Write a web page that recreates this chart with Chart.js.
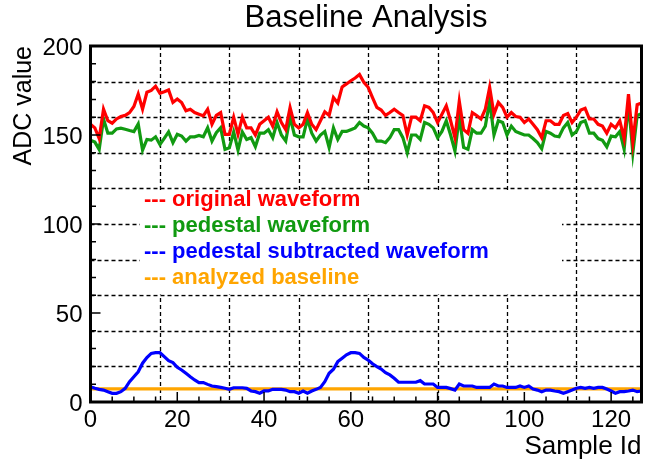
<!DOCTYPE html>
<html>
<head>
<meta charset="utf-8">
<script src="https://cdn.jsdelivr.net/npm/chart.js@4"></script>
<style>
  html, body { margin: 0; padding: 0; background: #fff; }
  canvas { display: block; }
</style>
</head>
<body>
<canvas id="chart" width="646" height="463"></canvas>
<script>
// sample ids 0..127
const sampleIds = Array.from({ length: 128 }, (_, i) => i)

const originalWaveform = [
  156, 154, 148, 164.5, 158, 156.6, 159, 160.4, 161, 162.6,
  166, 173, 164.5, 174, 175, 177.4, 173.4, 174.3, 175.3, 168.3,
  170.2, 168.3, 163.6, 164.5, 162.6, 161.7, 160.8, 164.5, 156, 161,
  162.6, 150.4, 150.4, 160, 150.4, 160, 154, 154, 150, 156,
  158, 160, 155, 163, 157, 153, 165.5, 156, 154, 156,
  162.6, 156, 153, 158, 163, 161, 171, 168, 177, 178.7,
  180.5, 182, 184, 179.6, 176.8, 171, 165.5, 164, 161, 162.6,
  164.5, 162.6, 161, 150, 160, 160, 158, 166.4, 165.5, 162.6,
  157, 161.7, 166.4, 158, 148.5, 169, 153, 151, 162.6, 161,
  159, 164.5, 176.8, 161.7, 168.3, 165.5, 160, 162.6, 160.4, 160,
  157, 159, 156, 153, 148.5, 158, 158, 156, 156, 161,
  162, 157, 160, 164, 165, 159, 159, 156, 155, 151,
  156, 154, 158, 148, 173, 146, 167, 168
]

const pedestalWaveform = [
  147.1, 146, 141.9, 159, 151, 151, 153.4, 153.8, 153.2, 152.5,
  151.9, 156.2, 141.5, 147.5, 147.1, 149, 144.7, 148.1, 151.7, 145.7,
  150.4, 149.4, 146.6, 149, 149, 149.8, 149, 154.1, 146.6, 151.3,
  154.1, 141.9, 142.8, 151.7, 141.5, 151.7, 147.5, 148.5, 143.4, 151,
  151, 153, 148.5, 157, 150, 146.6, 160, 150, 149, 149,
  159, 151, 146.6, 150, 152, 143, 154, 147.5, 152, 152,
  153, 154, 157, 155, 154, 151, 146.6, 146.6, 145.7, 148.5,
  153, 153, 148.5, 140, 150, 150, 147.5, 157, 156, 154,
  148.5, 152, 158, 150, 141, 160, 143, 142, 153, 151,
  151, 155, 169, 150, 158, 157, 150, 155, 152, 151,
  150, 150, 148, 145.7, 142.3, 152, 151, 149.4, 149, 154,
  157, 150, 152, 157, 158, 151, 151, 148, 147, 143.4,
  149.4, 149, 152, 142, 168, 140, 161, 162
]

const subtractedWaveform = [
  8.6, 7.7, 7.1, 6.7, 5.8, 4.9, 4.9, 5.8, 7.7, 11.4,
  14.2, 17, 21.8, 25, 27.3, 27.7, 27.7, 25.5, 23.2, 22.1,
  19.5, 18, 16.1, 14.2, 12.4, 10.9, 10.9, 9.9, 9, 8.6,
  8.2, 7.7, 7.1, 8, 8, 8, 7.7, 6.2, 5.8, 4.9,
  6.2, 6.2, 7.1, 7.1, 7.1, 6.7, 5.8, 5.8, 4.9, 6.2,
  4.9, 6.2, 7.1, 8.2, 11.4, 16.1, 18.4, 22.7, 24.6, 26.5,
  27.7, 27.7, 27.3, 25, 23.6, 21.5, 19.9, 18.5, 16.5, 15.2,
  13.3, 11.1, 11.1, 11.1, 11.1, 11.1, 12, 10.1, 10.1, 10.1,
  8.2, 8.2, 8.2, 7.5, 6.7, 10.1, 9, 9, 9, 8.2,
  8.2, 8.2, 8.2, 10.1, 9, 9, 8.2, 8.2, 8.2, 9,
  8.2, 9, 7.3, 6.7, 5.8, 6.7, 6.7, 6.2, 5.8, 4.9,
  5.8, 6.7, 7.7, 8.2, 7.7, 8.2, 7.7, 8.2, 8.2, 7.3,
  6.2, 4.9, 5.8, 5.8, 6.2, 6.7, 5.8, 6.2
]

const baselineValue = 7.4

const xTickStep = 20
const yTickStep = 50
const xGridStep = 16
const yGridStep = 20

const FONT = '"Liberation Sans", Helvetica, Arial, sans-serif'

// ROOT-like frame: dashed grid, inward ticks, box legend
const rootFrame = {
  id: 'rootFrame',
  beforeDatasetsDraw(chart) {
    const { ctx, chartArea: a, scales: { x, y } } = chart
    ctx.save()
    ctx.strokeStyle = '#000'
    ctx.lineWidth = 1.3
    ctx.setLineDash([4, 3])
    ctx.beginPath()
    for (let v = xGridStep; v < x.max; v += xGridStep) {
      const px = Math.round(x.getPixelForValue(v)) + 0.5
      ctx.moveTo(px, a.top)
      ctx.lineTo(px, a.bottom)
    }
    for (let v = yGridStep; v < y.max; v += yGridStep) {
      const py = Math.round(y.getPixelForValue(v)) + 0.5
      ctx.moveTo(a.left, py)
      ctx.lineTo(a.right, py)
    }
    ctx.stroke()
    ctx.restore()
  },
  afterDatasetsDraw(chart) {
    const { ctx, chartArea: a, scales: { x, y } } = chart

    // legend
    ctx.save()
    ctx.fillStyle = '#fff'
    ctx.fillRect(140, 190, 422, 104.5)
    ctx.font = 'bold 22px ' + FONT
    ctx.textBaseline = 'middle'
    ctx.textAlign = 'left'
    chart.data.datasets.forEach((ds, i) => {
      ctx.fillStyle = ds.borderColor
      ctx.fillText('--- ' + ds.label, 144, 200 + i * 26)
    })
    ctx.restore()

    // ticks
    ctx.save()
    ctx.strokeStyle = '#000'
    ctx.lineWidth = 1.5
    ctx.beginPath()
    for (let v = 0; v <= x.max; v += 5) {
      const px = x.getPixelForValue(v)
      const len = v % xTickStep === 0 ? 10 : 5.5
      ctx.moveTo(px, a.bottom)
      ctx.lineTo(px, a.bottom - len)
    }
    for (let v = 0; v <= y.max; v += 10) {
      const py = y.getPixelForValue(v)
      const len = v % yTickStep === 0 ? 10 : 5.5
      ctx.moveTo(a.left, py)
      ctx.lineTo(a.left + len, py)
    }
    ctx.stroke()

    // frame
    ctx.lineWidth = 3
    ctx.strokeRect(a.left, a.top, a.right - a.left, a.bottom - a.top)
    ctx.restore()
  }
}

const lineStyle = {
  borderWidth: 3.2,
  pointRadius: 0,
  tension: 0,
  fill: false
}

new Chart(document.getElementById('chart'), {
  type: 'line',
  data: {
    labels: sampleIds,
    datasets: [
      { ...lineStyle, label: 'original waveform', data: originalWaveform, borderColor: '#ff0000' },
      { ...lineStyle, label: 'pedestal waveform', data: pedestalWaveform, borderColor: '#119a11' },
      { ...lineStyle, label: 'pedestal subtracted waveform', data: subtractedWaveform, borderColor: '#0000ff' },
      {
        ...lineStyle,
        label: 'analyzed baseline',
        data: [{ x: 0, y: baselineValue }, { x: 127, y: baselineValue }],
        borderColor: '#ffa500'
      }
    ]
  },
  options: {
    responsive: false,
    animation: false,
    devicePixelRatio: 1,
    layout: { padding: { left: 0, right: 4.5, top: 0, bottom: 0 } },
    plugins: {
      legend: { display: false },
      tooltip: { enabled: false },
      title: {
        display: true,
        text: 'Baseline Analysis',
        fullSize: false,
        color: '#000',
        font: { family: FONT, size: 31, weight: 'normal' },
        padding: { top: 0, bottom: 8.8 }
      }
    },
    scales: {
      x: {
        type: 'linear',
        min: 0,
        max: 127,
        grid: { display: false, drawTicks: false },
        border: { display: false },
        ticks: {
          stepSize: xTickStep,
          includeBounds: false,
          autoSkip: false,
          maxRotation: 0,
          padding: 4,
          color: '#000',
          font: { family: FONT, size: 24 }
        },
        title: {
          display: true,
          text: 'Sample Id',
          align: 'end',
          color: '#000',
          font: { family: FONT, size: 26 },
          padding: { top: 0, bottom: 1 }
        },
        afterFit(scale) { scale.height = 61 }
      },
      y: {
        min: 0,
        max: 200,
        grid: { display: false, drawTicks: false },
        border: { display: false },
        ticks: {
          stepSize: yTickStep,
          padding: 8,
          labelOffset: 2,
          color: '#000',
          font: { family: FONT, size: 24 }
        },
        title: {
          display: true,
          text: 'ADC value',
          align: 'end',
          color: '#000',
          font: { family: FONT, size: 25 },
          padding: { top: 9, bottom: 0 }
        },
        afterFit(scale) { scale.width = 90.5 }
      }
    }
  },
  plugins: [rootFrame]
})
</script>
</body>
</html>
